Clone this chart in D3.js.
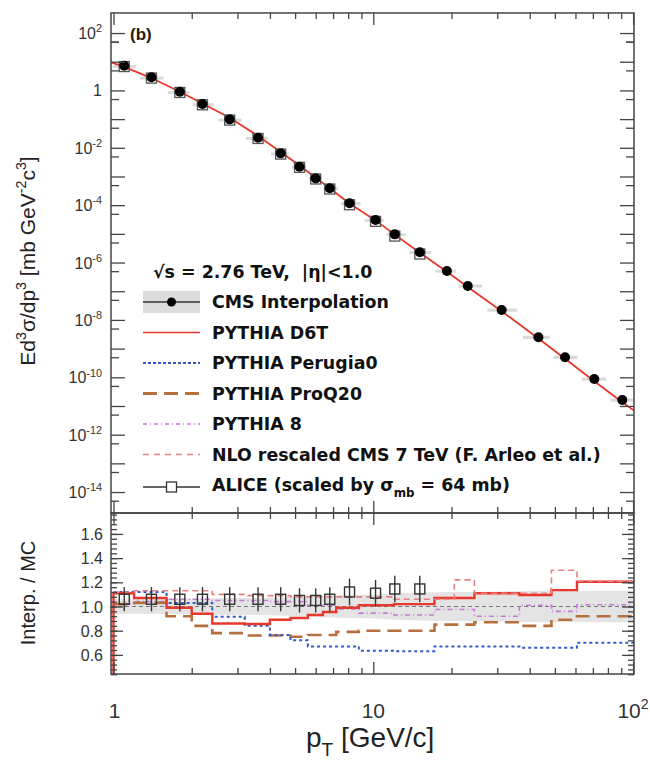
<!DOCTYPE html>
<html><head><meta charset="utf-8">
<script src="https://cdn.jsdelivr.net/npm/d3@7"></script>
<style>body{margin:0;background:#fff} text{font-family:"Liberation Sans",Arial,Helvetica,sans-serif}</style>
</head><body><svg id="c" width="650" height="761"></svg>
<script>
// ---------------- data ----------------
const cmsPt    = [1.1,1.4,1.8,2.2,2.8,3.6,4.4,5.2,6.0,6.8,8.1,10.2,12.1,15.1,19.2,23.1,31.2,43.2,54.7,70.9,90.9];
const cmsYield = [7.2,2.86,0.90,0.335,0.098,0.0224,6.4e-3,2.19e-3,8.6e-4,3.87e-4,1.16e-4,3.03e-5,9.6e-6,2.27e-6,5.07e-7,1.52e-7,2.21e-8,2.48e-9,4.98e-10,8.7e-11,1.62e-11];
const cmsSyst  = [0.06,0.06,0.065,0.065,0.07,0.07,0.075,0.08,0.085,0.09,0.095,0.10,0.11,0.115,0.12,0.12,0.125,0.13,0.13,0.13,0.13];
const d6tPt    = [0.978,1.1,1.4,1.8,2.2,2.8,3.6,4.4,5.2,6.0,6.8,8.1,10.2,12.1,15.1,19.2,23.1,31.2,43.2,54.7,70.9,90.9,100.8];
const d6tYield = [9.6,6.6,2.7,0.90,0.35,0.112,0.026,7.2e-3,2.4e-3,9.0e-4,3.9e-4,1.15e-4,2.95e-5,9.4e-6,2.2e-6,4.8e-7,1.40e-7,2.0e-8,2.25e-9,4.4e-10,7.3e-11,1.35e-11,6.9e-12];
const alicePt    = [1.1,1.4,1.8,2.2,2.8,3.6,4.4,5.2,6.0,6.8,8.1,10.2,12.1,15.1];
const aliceRatio = [1.06,1.06,1.06,1.06,1.06,1.06,1.06,1.05,1.05,1.06,1.12,1.11,1.145,1.145];
const aliceErr   = [0.10,0.10,0.10,0.10,0.10,0.10,0.10,0.10,0.10,0.10,0.11,0.11,0.11,0.11];
const mcEdges       = [1.0,1.2,1.4,1.6,2.0,2.4,3.2,4.0,4.8,5.6,6.4,7.2,8.8,12,17.2,24.5,36.5,48.5,60.8,100.8];
const ratioD6T      = [1.11,1.07,1.07,0.99,0.94,0.86,0.855,0.89,0.905,0.93,0.955,0.99,1.01,1.02,1.07,1.11,1.095,1.135,1.205];
const ratioPerugia0 = [1.12,1.12,1.12,1.03,1.03,0.915,0.84,0.765,0.72,0.67,0.67,0.67,0.635,0.63,0.67,0.67,0.66,0.66,0.70];
const ratioProQ20   = [1.02,1.03,1.03,0.92,0.84,0.78,0.76,0.76,0.75,0.765,0.765,0.79,0.80,0.80,0.85,0.87,0.84,0.89,0.92];
const ratioPythia8  = [1.02,1.04,1.04,1.06,1.06,1.05,1.05,1.04,1.04,1.01,1.01,0.98,0.945,0.93,0.975,0.92,1.01,0.96,1.015];
const nloEdges = [1.0,1.2,1.6,2.4,3.2,4.8,12,20.5,24.5,48.5,60.8,100.8];
const ratioNLO = [1.12,1.13,1.13,1.10,1.09,1.08,1.06,1.22,1.11,1.30,1.21];
const yTopExps = [2,0,-2,-4,-6,-8,-10,-12,-14];
const yBotLabels = [0.6,0.8,1.0,1.2,1.4,1.6];
const xLabelExps = [0,1,2];
const legendLabels = ["CMS Interpolation","PYTHIA D6T","PYTHIA Perugia0","PYTHIA ProQ20","PYTHIA 8","NLO rescaled CMS 7 TeV (F. Arleo et al.)","ALICE (scaled by σ"];

// ---------------- setup ----------------
const svg = d3.select("#c");
const L=111,R=634,T=13,M=513,B=674;
const axCol="#444";
const xS = d3.scaleLog().domain([0.978,100.8]).range([L,R]);
const yT = d3.scaleLog().domain([1.86e-15,500]).range([M,T]);
const yB = d3.scaleLinear().domain([0.442,1.773]).range([B,M]);

const defs=svg.append("defs");
defs.append("clipPath").attr("id","cpT").append("rect").attr("x",L).attr("y",T).attr("width",R-L).attr("height",M-T);
defs.append("clipPath").attr("id","cpB").append("rect").attr("x",L).attr("y",M).attr("width",R-L).attr("height",B-M);

const COL={d6t:"#e8372c",per:"#3358cc",pro:"#b5703f",p8:"#c878d8",nlo:"#e88080"};

// ---------------- top panel ----------------
const gT=svg.append("g").attr("clip-path","url(#cpT)");
cmsPt.forEach((p,i)=>{
  const gl = i===0 ? Math.sqrt(cmsPt[1]/p) : Math.sqrt(p/cmsPt[i-1]);
  const gr = i===cmsPt.length-1 ? Math.sqrt(p/cmsPt[i-1]) : Math.sqrt(cmsPt[i+1]/p);
  const lo = p/Math.pow(gl,0.85), hi = p*Math.pow(gr,0.85);
  const v=cmsYield[i], s=cmsSyst[i];
  gT.append("rect").attr("x",xS(lo)).attr("width",xS(hi)-xS(lo))
    .attr("y",yT(v*(1+s))).attr("height",Math.max(yT(v*(1-s))-yT(v*(1+s)),3))
    .attr("fill","#dadada");
});
gT.append("path").datum(d6tPt.map((p,i)=>[p,d6tYield[i]]))
  .attr("d",d3.line().x(d=>xS(d[0])).y(d=>yT(d[1])))
  .attr("fill","none").attr("stroke",COL.d6t).attr("stroke-width",1.8);
alicePt.forEach((p,i)=>{
  const idx=cmsPt.indexOf(p);
  const v=cmsYield[idx]/aliceRatio[i];
  gT.append("rect").attr("x",xS(p)-5).attr("y",yT(v)-5).attr("width",10).attr("height",10)
    .attr("fill","none").attr("stroke","#555").attr("stroke-width",1.3);
});
gT.selectAll("circle.cms").data(cmsPt).enter().append("circle")
  .attr("cx",d=>xS(d)).attr("cy",(d,i)=>yT(cmsYield[i])).attr("r",5).attr("fill","#000");

// ---------------- bottom panel ----------------
const gB=svg.append("g").attr("clip-path","url(#cpB)");
const bandPts=[[xS.domain()[0],cmsSyst[0]]].concat(cmsPt.map((p,i)=>[p,cmsSyst[i]])).concat([[xS.domain()[1],cmsSyst[cmsSyst.length-1]]]);
gB.append("path").datum(bandPts)
  .attr("d",d3.area().x(d=>xS(d[0])).y0(d=>yB(1-d[1])).y1(d=>yB(1+d[1])))
  .attr("fill","#e4e4e4");
gB.append("line").attr("x1",L).attr("x2",R).attr("y1",yB(1)).attr("y2",yB(1))
  .attr("stroke","#777").attr("stroke-width",1).attr("stroke-dasharray","4,3");

function stepPts(edges,vals,fromBottom){
  const pts=[];
  if(fromBottom) pts.push([edges[0],yB.domain()[0]]);
  vals.forEach((v,i)=>pts.push([edges[i],v]));
  pts.push([edges[edges.length-1],vals[vals.length-1]]);
  return pts;
}
const stepLine=d3.line().x(d=>xS(d[0])).y(d=>yB(d[1])).curve(d3.curveStepAfter);
function hist(edges,vals,col,w,dash,fromBottom){
  gB.append("path").datum(stepPts(edges,vals,fromBottom)).attr("d",stepLine)
    .attr("fill","none").attr("stroke",col).attr("stroke-width",w).attr("stroke-dasharray",dash);
}
hist(mcEdges,ratioPythia8,COL.p8,1.6,"5,3,1,3",false);
hist(mcEdges,ratioProQ20,COL.pro,2.6,"14,7",false);
hist(mcEdges,ratioPerugia0,COL.per,2,"3,3",false);
hist(mcEdges,ratioD6T,COL.d6t,2.4,null,true);
hist(nloEdges,ratioNLO,COL.nlo,1.6,"6,4",false);
alicePt.forEach((p,i)=>{
  const x=xS(p);
  gB.append("line").attr("x1",x).attr("x2",x).attr("y1",yB(aliceRatio[i]-aliceErr[i])).attr("y2",yB(aliceRatio[i]+aliceErr[i]))
    .attr("stroke","#333").attr("stroke-width",1.4);
  gB.append("rect").attr("x",x-5).attr("y",yB(aliceRatio[i])-5).attr("width",10).attr("height",10)
    .attr("fill","none").attr("stroke","#333").attr("stroke-width",1.4);
});

// ---------------- axes ----------------
function tickAxis(y0, gen, vals, size){
  const g=svg.append("g").attr("transform",y0);
  g.call(gen.tickValues(vals).tickSize(size).tickFormat(""));
  g.select(".domain").remove();
  g.selectAll("line").attr("stroke",axCol).attr("stroke-width",1.3);
}
const xMaj=[1,10,100], xMin=[];
[1,10].forEach(d=>{for(let k=2;k<=9;k++) xMin.push(d*k);});
[[T,d3.axisTop],[M,d3.axisBottom],[M,d3.axisTop],[B,d3.axisBottom]].forEach(a=>{
  tickAxis(`translate(0,${a[0]})`,a[1](xS),xMaj,-12);
  tickAxis(`translate(0,${a[0]})`,a[1](xS),xMin,-6);
});
const yDec=[],yHalf=[];
for(let e=-14;e<=2;e++){yDec.push(Math.pow(10,e)); yHalf.push(5*Math.pow(10,e-1));}
yHalf.push(5e1);
tickAxis(`translate(${L},0)`,d3.axisLeft(yT),yDec,-14);
tickAxis(`translate(${L},0)`,d3.axisLeft(yT),yHalf.filter(v=>v>=yT.domain()[0]),-8);
tickAxis(`translate(${R},0)`,d3.axisRight(yT),yDec,-14);
tickAxis(`translate(${R},0)`,d3.axisRight(yT),yHalf.filter(v=>v>=yT.domain()[0]),-8);
const bMaj=d3.range(0.6,1.61,0.2), bMin=d3.range(0.44,1.77,0.04);
tickAxis(`translate(${L},0)`,d3.axisLeft(yB),bMaj,-12);
tickAxis(`translate(${L},0)`,d3.axisLeft(yB),bMin,-6);
tickAxis(`translate(${R},0)`,d3.axisRight(yB),bMaj,-12);
tickAxis(`translate(${R},0)`,d3.axisRight(yB),bMin,-6);
[[T,M],[M,B]].forEach(f=>svg.append("rect").attr("x",L).attr("y",f[0]).attr("width",R-L).attr("height",f[1]-f[0])
  .attr("fill","none").attr("stroke",axCol).attr("stroke-width",1.5));

// ---------------- labels ----------------
const labCol="#333";
function richText(t,parts,size){
  let back=0;
  parts.forEach(p=>{
    const ts=t.append("tspan").text(p[0]);
    let dy=back; back=0;
    if(p[1]==="sup"){ dy-=size*0.42; back=size*0.42; ts.attr("font-size",size*0.68); }
    if(p[1]==="sub"){ dy+=size*0.32; back=-size*0.32; ts.attr("font-size",size*0.68); }
    if(dy!==0) ts.attr("dy",dy);
  });
}
function powLabel(x,y,exp,size,anchor){
  const t=svg.append("text").attr("x",x).attr("y",y).attr("text-anchor",anchor).attr("font-size",size).attr("fill",labCol);
  if(exp===0){t.text("1");return;}
  if(exp===1){t.text("10");return;}
  richText(t,[["10"],[String(exp),"sup"]],size);
}
yTopExps.forEach(e=>powLabel(102,yT(Math.pow(10,e))+6,e,16,"end"));
yBotLabels.forEach(v=>svg.append("text").attr("x",103).attr("y",yB(v)+6).attr("text-anchor","end")
  .attr("font-size",16).attr("fill",labCol).text(v.toFixed(1)));
xLabelExps.forEach(e=>powLabel(xS(Math.pow(10,e))+(e===0?1:0),718,e,21,"middle"));

const yt=svg.append("text").attr("transform","translate(35,261) rotate(-90)").attr("text-anchor","middle")
  .attr("font-size",21).attr("fill","#222");
richText(yt,[["Ed"],["3","sup"],["σ/dp"],["3","sup"],[" [mb GeV"],["-2","sup"],["c"],["3","sup"],["]"]],21);
svg.append("text").attr("transform","translate(35,593) rotate(-90)").attr("text-anchor","middle")
  .attr("font-size",20).attr("fill","#222").text("Interp. / MC");
const xt=svg.append("text").attr("x",306).attr("y",747).attr("font-size",28).attr("fill","#222");
richText(xt,[["p"],["T","sub"],[" [GeV/c]"]],28);

svg.append("text").attr("x",130).attr("y",40).attr("font-size",17).attr("font-weight","bold").attr("fill","#2a1a08").text("(b)");

// legend
const LF='"DejaVu Sans",Verdana,sans-serif';
const LFS=17.4;
const lg=svg.append("g");
lg.append("text").attr("x",153).attr("y",278).attr("font-size",LFS).attr("font-weight","bold").attr("fill","#111")
  .style("font-family",LF).style("white-space","pre").text("\u221As = 2.76 TeV,  |\u03B7|<1.0");
const lx1=143,lx2=200,ltx=212;
const legY=d3.range(legendLabels.length).map(i=>302+i*30.5);
lg.append("rect").attr("x",lx1).attr("y",legY[0]-11).attr("width",lx2-lx1).attr("height",22).attr("fill","#dcdcdc");
lg.append("line").attr("x1",lx1).attr("x2",lx2).attr("y1",legY[0]).attr("y2",legY[0]).attr("stroke","#333").attr("stroke-width",1.3);
lg.append("circle").attr("cx",(lx1+lx2)/2).attr("cy",legY[0]).attr("r",4.5).attr("fill","#000");
const samp=[[COL.d6t,1.6,null],[COL.per,2,"3,2"],[COL.pro,3,"14,7"],[COL.p8,1.5,"4,3,1,3"],[COL.nlo,1.6,"6,5"]];
samp.forEach((s,i)=>lg.append("line").attr("x1",lx1).attr("x2",lx2).attr("y1",legY[i+1]).attr("y2",legY[i+1])
  .attr("stroke",s[0]).attr("stroke-width",s[1]).attr("stroke-dasharray",s[2]));
const ay=legY[6]+2;
lg.append("line").attr("x1",lx1).attr("x2",lx2).attr("y1",ay).attr("y2",ay).attr("stroke","#333").attr("stroke-width",1.3);
lg.append("rect").attr("x",(lx1+lx2)/2-5).attr("y",ay-5).attr("width",10).attr("height",10).attr("fill","#fff").attr("stroke","#333").attr("stroke-width",1.3);
legendLabels.forEach((t,i)=>{
  const tx=lg.append("text").attr("x",ltx).attr("y",legY[i]+6).attr("font-size",LFS).attr("font-weight","bold")
    .attr("fill","#111").style("font-family",LF);
  if(i===6){ richText(tx,[[t],["mb","sub"],[" = 64 mb)"]],LFS); }
  else tx.text(t);
});
</script></body></html>
